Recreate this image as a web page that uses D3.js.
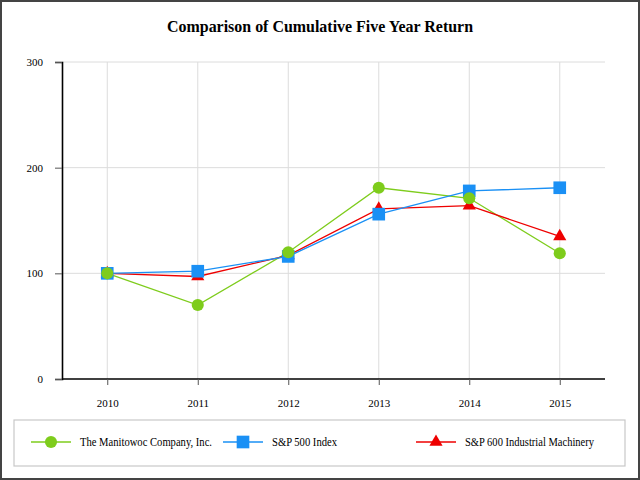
<!DOCTYPE html>
<head>
  <meta charset="utf-8">
  <title>Comparison of Cumulative Five Year Return</title>
  <script src="https://d3js.org/d3.v7.min.js"></script>
  <style>
    body { margin: 0; background: #fff; }
    text { font-family: "Liberation Serif", "Times New Roman", serif; }
  </style>
</head>
<body>
<script>

  // chart data
  let years = ["2010", "2011", "2012", "2013", "2014", "2015"];
  let manitowoc = [100, 70, 120, 181, 171, 119];
  let sp500 = [100, 102, 116, 156, 178, 181];
  let sp600_machinery = [100, 97, 117, 161, 164, 135];
  let y_ticks = [0, 100, 200, 300];

  let series_names = ["The Manitowoc Company, Inc.", "S&P 500 Index", "S&P 600 Industrial Machinery"];
  let series_colors = ["#7ecc1c", "#1a90f5", "#ee0000"];
  let series_shapes = [d3.symbolCircle, d3.symbolSquare, d3.symbolTriangle];
  let series_values = [manitowoc, sp500, sp600_machinery];

  let width = 640;
  let height = 480;
  let margin = {top: 62, right: 35, bottom: 101, left: 62};

  let svg = d3.select("body").append("svg")
      .attr("width", width)
      .attr("height", height);

  // outer frame
  svg.append("rect")
      .attr("x", 1).attr("y", 1)
      .attr("width", width - 2).attr("height", height - 2)
      .style("fill", "none")
      .style("stroke", "#444")
      .style("stroke-width", 2);

  svg.append("text")
      .attr("x", width / 2)
      .attr("y", 32)
      .attr("text-anchor", "middle")
      .attr("textLength", 306)
      .attr("lengthAdjust", "spacingAndGlyphs")
      .style("font-size", "17px")
      .style("font-weight", "bold")
      .text("Comparison of Cumulative Five Year Return");

  let x = d3.scalePoint()
      .domain(years)
      .range([margin.left, width - margin.right])
      .padding(0.5);

  let y = d3.scaleLinear()
      .domain([0, 300])
      .range([height - margin.bottom, margin.top]);

  // grid
  svg.append("g").selectAll("line.h")
      .data(y_ticks.slice(1))
      .enter().append("line")
      .attr("x1", margin.left).attr("x2", width - margin.right)
      .attr("y1", d => y(d)).attr("y2", d => y(d))
      .style("stroke", "#dcdcdc");

  svg.append("g").selectAll("line.v")
      .data(years)
      .enter().append("line")
      .attr("x1", d => x(d)).attr("x2", d => x(d))
      .attr("y1", margin.top).attr("y2", height - margin.bottom)
      .style("stroke", "#dcdcdc");

  // axes
  let y_axis = svg.append("g")
      .attr("transform", "translate(" + margin.left + ",0)")
      .call(d3.axisLeft(y).tickValues(y_ticks).tickSize(7).tickPadding(12));

  let x_axis = svg.append("g")
      .attr("transform", "translate(0," + (height - margin.bottom) + ")")
      .call(d3.axisBottom(x).tickSize(6).tickPadding(14).tickSizeOuter(0));

  x_axis.select(".domain").attr("d", "M" + margin.left + ",0H" + (width - margin.right));

  [x_axis, y_axis].forEach(function(a) {
    a.selectAll("text")
      .style("font-family", "Liberation Serif, serif")
      .style("font-size", "11px")
      .style("fill", "#000");
    a.select(".domain").style("stroke", "#000").style("stroke-width", 1.6);
    a.selectAll(".tick line").style("stroke", "#555");
  });

  // lines and markers
  let line = d3.line()
      .x((d, i) => x(years[i]))
      .y(d => y(d));

  let draw_order = [0, 2, 1];
  draw_order.forEach(function(s) {
    svg.append("path")
      .datum(series_values[s])
      .attr("d", line)
      .style("fill", "none")
      .style("stroke", series_colors[s])
      .style("stroke-width", 1.3);
  });

  let marker_sizes = [115, 160, 75];
  [2, 1, 0].forEach(function(s) {
    svg.append("g").selectAll("path")
      .data(series_values[s])
      .enter().append("path")
      .attr("transform", (d, i) => "translate(" + x(years[i]) + "," + y(d) + ")")
      .attr("d", d3.symbol().type(series_shapes[s]).size(marker_sizes[s]))
      .style("fill", series_colors[s]);
  });

  // legend
  let legend = svg.append("g");
  legend.append("rect")
      .attr("x", 14).attr("y", 420)
      .attr("width", 611).attr("height", 46)
      .style("fill", "none")
      .style("stroke", "#c8c8c8")
      .style("stroke-width", 1.2);

  let legend_x = [31, 223, 416];
  let legend_text_len = [132, 65, 129];
  series_names.forEach(function(name, s) {
    let lx = legend_x[s];
    let ly = 442;
    legend.append("line")
      .attr("x1", lx).attr("x2", lx + 40)
      .attr("y1", ly).attr("y2", ly)
      .style("stroke", series_colors[s])
      .style("stroke-width", 1.4);
    legend.append("path")
      .attr("transform", "translate(" + (lx + 20) + "," + ly + ")")
      .attr("d", d3.symbol().type(series_shapes[s]).size(marker_sizes[s]))
      .style("fill", series_colors[s]);
    legend.append("text")
      .attr("x", lx + 49)
      .attr("y", ly + 4)
      .attr("textLength", legend_text_len[s])
      .attr("lengthAdjust", "spacingAndGlyphs")
      .style("font-size", "12.5px")
      .text(name);
  });

</script>
</body>
